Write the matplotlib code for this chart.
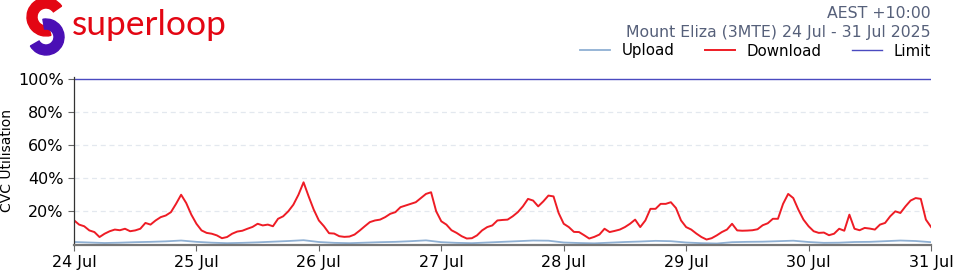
import datetime as dt
import matplotlib
matplotlib.use("Agg")
import matplotlib.pyplot as plt
import matplotlib.dates as mdates
from matplotlib.patches import Wedge
from matplotlib.ticker import FuncFormatter

# hourly download utilisation (%), 24 Jul 00:00 -> 31 Jul 00:00
download = [
    14.6, 12, 11, 8.5, 7.5, 4.5, 6.5, 8, 9, 8.6, 9.5, 8, 8.5, 9.5, 13, 12, 14.5, 16.5, 17.5, 19.5, 24.5, 30, 25, 18,
    12.5, 8.5, 7, 6.5, 5.5, 3.8, 4.5, 6.5, 7.8, 8.3, 9.5, 10.6, 12.5, 11.5, 12, 11, 15.5, 17, 20, 24, 30, 37.5, 29, 21,
    14.5, 11, 6.8, 6.6, 5, 4.6, 4.8, 6, 8.4, 11, 13.5, 14.5, 15, 16.5, 18.5, 19.5, 22.5, 23.5, 24.5, 25.5, 28, 30.5, 31.5, 20,
    14, 12, 8.6, 7, 5, 3.6, 3.8, 5.5, 8.5, 10.5, 11.5, 14.5, 14.8, 15, 17, 19.5, 23, 27.5, 26.5, 23, 26, 29.5, 29, 19,
    12.5, 10.5, 7.6, 7.5, 5.6, 3.6, 4.6, 6, 9.5, 7.5, 8.2, 9, 10.5, 12.5, 15, 10.5, 14.5, 21.5, 21.5, 24.5, 24.5, 25.5, 22, 14.5,
    10.5, 9, 6.6, 4.5, 3, 3.8, 5.5, 7.5, 9, 12.5, 8.5, 8.3, 8.4, 8.6, 9.2, 11.6, 12.8, 15.5, 15.5, 24.5, 30.5, 28, 21, 15,
    11, 8, 7, 7.2, 5.6, 6.5, 9.5, 8.3, 18, 9.5, 8.6, 10, 9.6, 9, 12, 13, 17, 20, 19, 23, 26.5, 28, 27.5, 15,
    10.6,
]

# 3-hourly upload utilisation (%)
upload = [
    1.5, 1.2, 0.9, 1.1, 1.4, 1.6, 1.9, 2.4,
    1.6, 1.1, 0.8, 1.0, 1.3, 1.7, 2.1, 2.6,
    1.5, 1.0, 0.8, 1.1, 1.4, 1.6, 2.0, 2.5,
    1.4, 1.0, 0.8, 1.2, 1.6, 2.0, 2.4, 2.3,
    1.2, 0.9, 0.7, 1.1, 1.5, 1.8, 2.2, 2.0,
    1.2, 0.8, 0.6, 1.4, 1.6, 1.7, 2.0, 2.3,
    1.5, 1.0, 1.1, 1.5, 1.6, 2.0, 2.4, 2.1,
    1.4,
]

limit = 100
yticks = [20, 40, 60, 80, 100]
start = dt.datetime(2025, 7, 24)
end = dt.datetime(2025, 7, 31)

t_down = [start + dt.timedelta(hours=i) for i in range(len(download))]
t_up = [start + dt.timedelta(hours=3 * i) for i in range(len(upload))]

c_up = "#8fb0d3"
c_down = "#ee1c25"
c_limit = "#4a4ac0"
c_head = "#56607a"

fig = plt.figure(figsize=(9.6, 2.75), dpi=100)
ax = fig.add_axes([74 / 960, 1 - 244.5 / 275, 857 / 960, 167.5 / 275])

ax.plot(t_up, upload, color=c_up, lw=1.3, label="Upload")
ax.plot(t_down, download, color=c_down, lw=1.4, label="Download")
ax.plot([start, end], [limit, limit], color=c_limit, lw=1.0, label="Limit")

ax.set_xlim(start, end)
ax.set_ylim(0, 101)
ax.set_yticks(yticks)
ax.yaxis.set_major_formatter(FuncFormatter(lambda v, p: f"{v:.0f}%"))
ax.xaxis.set_major_locator(mdates.DayLocator())
ax.xaxis.set_major_formatter(mdates.DateFormatter("%d %b"))
ax.tick_params(labelsize=11.5, length=4, color="#666666")
ax.set_ylabel("CVC Utilisation", fontsize=10)
ax.yaxis.set_label_coords(-60 / 857, 0.5)

# dashed gridlines, not at 100 (limit line sits there)
for v in yticks[:-1]:
    ax.axhline(v, color="#e3e8ef", lw=0.9, ls=(0, (4, 3)), zorder=0)

for s in ("top", "right"):
    ax.spines[s].set_visible(False)
ax.spines["left"].set_color("#333333")
ax.spines["left"].set_linewidth(0.9)
ax.spines["bottom"].set_color("#777777")
ax.spines["bottom"].set_linewidth(1.6)

# headers
fig.text(931 / 960, 1 - 14 / 275, "AEST +10:00", ha="right", va="center", fontsize=11.3, color=c_head)
fig.text(931 / 960, 1 - 32 / 275, "Mount Eliza (3MTE) 24 Jul - 31 Jul 2025", ha="right", va="center",
         fontsize=11.3, color=c_head)

# legend
fig.legend(loc="center right", bbox_to_anchor=(931 / 960, 1 - 51 / 275), ncol=3, frameon=False,
           fontsize=10.8, handlelength=2.0, columnspacing=2.0, handletextpad=0.8, borderaxespad=0,
           borderpad=0)

# logo
lax = fig.add_axes([0, 1 - 60 / 275, 80 / 960, 60 / 275])
lax.set_xlim(0, 80)
lax.set_ylim(0, 60)
lax.set_aspect("equal")
lax.axis("off")
lax.add_patch(Wedge((46, 43), 19, 35, 285, width=10, color="#e30613"))
lax.add_patch(Wedge((46, 23), 18, -150, 100, width=10, color="#4a0fb5"))
fig.text(72 / 960, 1 - 25 / 275, "superloop", ha="left", va="center", fontsize=25.5, color="#e30613",
         family="Lato")

fig.savefig("out.png", dpi=100)
